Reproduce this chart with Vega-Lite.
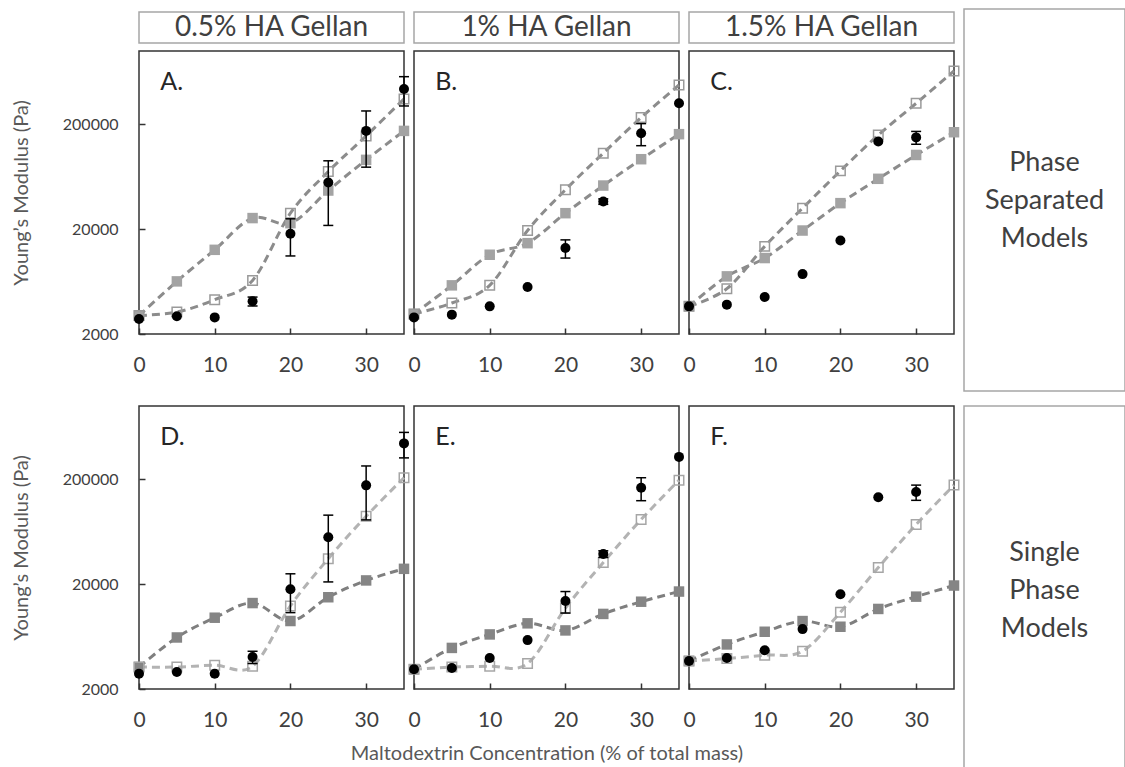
{
  "$schema": "https://vega.github.io/schema/vega-lite/v6.json",
  "padding": {"left": 10, "top": 8, "right": 0, "bottom": 0},
  "config": {
    "font": "Lato",
    "view": {"stroke": "#333333", "strokeWidth": 1.5},
    "axis": {"domain": false, "grid": false, "tickSize": -6, "tickColor": "#333333", "tickWidth": 1.5, "labelColor": "#404040", "titleColor": "#595959", "titleFontWeight": "normal", "labelFont": "Lato", "titleFont": "Lato"}
  },
  "datasets": {
    "labels": [
      {"panel": "A", "letter": "A.", "header": "0.5% HA Gellan"},
      {"panel": "B", "letter": "B.", "header": "1% HA Gellan"},
      {"panel": "C", "letter": "C.", "header": "1.5% HA Gellan"},
      {"panel": "D", "letter": "D."},
      {"panel": "E", "letter": "E."},
      {"panel": "F", "letter": "F."}
    ],
    "main": [
      {"panel": "A", "conc": 0, "series": "Measured", "value": 2780},
      {"panel": "A", "conc": 5, "series": "Measured", "value": 2950},
      {"panel": "A", "conc": 10, "series": "Measured", "value": 2880},
      {"panel": "A", "conc": 15, "series": "Measured", "value": 4100, "lo": 3700, "hi": 4500},
      {"panel": "A", "conc": 20, "series": "Measured", "value": 18100, "lo": 11100, "hi": 25100},
      {"panel": "A", "conc": 25, "series": "Measured", "value": 55700, "lo": 21700, "hi": 89700},
      {"panel": "A", "conc": 30, "series": "Measured", "value": 173000, "lo": 78000, "hi": 268000},
      {"panel": "A", "conc": 35, "series": "Measured", "value": 434000, "lo": 299000, "hi": 569000},
      {"panel": "A", "conc": 0, "series": "Model 1", "value": 3000},
      {"panel": "A", "conc": 5, "series": "Model 1", "value": 6350},
      {"panel": "A", "conc": 10, "series": "Model 1", "value": 12700},
      {"panel": "A", "conc": 15, "series": "Model 1", "value": 25500},
      {"panel": "A", "conc": 20, "series": "Model 1", "value": 22800},
      {"panel": "A", "conc": 25, "series": "Model 1", "value": 46700},
      {"panel": "A", "conc": 30, "series": "Model 1", "value": 91600},
      {"panel": "A", "conc": 35, "series": "Model 1", "value": 173000},
      {"panel": "A", "conc": 0, "series": "Model 2", "value": 3000},
      {"panel": "A", "conc": 5, "series": "Model 2", "value": 3240},
      {"panel": "A", "conc": 10, "series": "Model 2", "value": 4250},
      {"panel": "A", "conc": 15, "series": "Model 2", "value": 6490},
      {"panel": "A", "conc": 20, "series": "Model 2", "value": 28400},
      {"panel": "A", "conc": 25, "series": "Model 2", "value": 70900},
      {"panel": "A", "conc": 30, "series": "Model 2", "value": 155000},
      {"panel": "A", "conc": 35, "series": "Model 2", "value": 349000},

      {"panel": "B", "conc": 0, "series": "Measured", "value": 2880},
      {"panel": "B", "conc": 5, "series": "Measured", "value": 3060},
      {"panel": "B", "conc": 10, "series": "Measured", "value": 3670},
      {"panel": "B", "conc": 15, "series": "Measured", "value": 5610},
      {"panel": "B", "conc": 20, "series": "Measured", "value": 13200, "lo": 10600, "hi": 15800},
      {"panel": "B", "conc": 25, "series": "Measured", "value": 36700, "lo": 34500, "hi": 38900},
      {"panel": "B", "conc": 30, "series": "Measured", "value": 164000, "lo": 125000, "hi": 203000},
      {"panel": "B", "conc": 35, "series": "Measured", "value": 317000},
      {"panel": "B", "conc": 0, "series": "Model 1", "value": 3100},
      {"panel": "B", "conc": 5, "series": "Model 1", "value": 5820},
      {"panel": "B", "conc": 10, "series": "Model 1", "value": 11400},
      {"panel": "B", "conc": 15, "series": "Model 1", "value": 14700},
      {"panel": "B", "conc": 20, "series": "Model 1", "value": 28400},
      {"panel": "B", "conc": 25, "series": "Model 1", "value": 52100},
      {"panel": "B", "conc": 30, "series": "Model 1", "value": 92900},
      {"panel": "B", "conc": 35, "series": "Model 1", "value": 161000},
      {"panel": "B", "conc": 0, "series": "Model 2", "value": 3100},
      {"panel": "B", "conc": 5, "series": "Model 2", "value": 3950},
      {"panel": "B", "conc": 10, "series": "Model 2", "value": 5820},
      {"panel": "B", "conc": 15, "series": "Model 2", "value": 19400},
      {"panel": "B", "conc": 20, "series": "Model 2", "value": 47500},
      {"panel": "B", "conc": 25, "series": "Model 2", "value": 106000},
      {"panel": "B", "conc": 30, "series": "Model 2", "value": 232000},
      {"panel": "B", "conc": 35, "series": "Model 2", "value": 474000},

      {"panel": "C", "conc": 0, "series": "Measured", "value": 3670},
      {"panel": "C", "conc": 5, "series": "Measured", "value": 3810},
      {"panel": "C", "conc": 10, "series": "Measured", "value": 4500},
      {"panel": "C", "conc": 15, "series": "Measured", "value": 7450},
      {"panel": "C", "conc": 20, "series": "Measured", "value": 15600},
      {"panel": "C", "conc": 25, "series": "Measured", "value": 137000},
      {"panel": "C", "conc": 30, "series": "Measured", "value": 150000, "lo": 129000, "hi": 171000},
      {"panel": "C", "conc": 0, "series": "Model 1", "value": 3670},
      {"panel": "C", "conc": 5, "series": "Model 1", "value": 7090},
      {"panel": "C", "conc": 10, "series": "Model 1", "value": 10600},
      {"panel": "C", "conc": 15, "series": "Model 1", "value": 19400},
      {"panel": "C", "conc": 20, "series": "Model 1", "value": 35400},
      {"panel": "C", "conc": 25, "series": "Model 1", "value": 60400},
      {"panel": "C", "conc": 30, "series": "Model 1", "value": 102000},
      {"panel": "C", "conc": 35, "series": "Model 1", "value": 168000},
      {"panel": "C", "conc": 0, "series": "Model 2", "value": 3670},
      {"panel": "C", "conc": 5, "series": "Model 2", "value": 5410},
      {"panel": "C", "conc": 10, "series": "Model 2", "value": 13700},
      {"panel": "C", "conc": 15, "series": "Model 2", "value": 31700},
      {"panel": "C", "conc": 20, "series": "Model 2", "value": 71900},
      {"panel": "C", "conc": 25, "series": "Model 2", "value": 158000},
      {"panel": "C", "conc": 30, "series": "Model 2", "value": 317000},
      {"panel": "C", "conc": 35, "series": "Model 2", "value": 645000},

      {"panel": "D", "conc": 0, "series": "Measured", "value": 2800},
      {"panel": "D", "conc": 5, "series": "Measured", "value": 2900},
      {"panel": "D", "conc": 10, "series": "Measured", "value": 2800},
      {"panel": "D", "conc": 15, "series": "Measured", "value": 4040, "lo": 3500, "hi": 4580},
      {"panel": "D", "conc": 20, "series": "Measured", "value": 17900, "lo": 10700, "hi": 25100},
      {"panel": "D", "conc": 25, "series": "Measured", "value": 56000, "lo": 21000, "hi": 91000},
      {"panel": "D", "conc": 30, "series": "Measured", "value": 175000, "lo": 82000, "hi": 268000},
      {"panel": "D", "conc": 35, "series": "Measured", "value": 440000, "lo": 320000, "hi": 560000},
      {"panel": "D", "conc": 0, "series": "Model 1", "value": 3240},
      {"panel": "D", "conc": 5, "series": "Model 1", "value": 6200},
      {"panel": "D", "conc": 10, "series": "Model 1", "value": 9570},
      {"panel": "D", "conc": 15, "series": "Model 1", "value": 13200},
      {"panel": "D", "conc": 20, "series": "Model 1", "value": 8900},
      {"panel": "D", "conc": 25, "series": "Model 1", "value": 15000},
      {"panel": "D", "conc": 30, "series": "Model 1", "value": 21700},
      {"panel": "D", "conc": 35, "series": "Model 1", "value": 28000},
      {"panel": "D", "conc": 0, "series": "Model 2", "value": 3240},
      {"panel": "D", "conc": 5, "series": "Model 2", "value": 3240},
      {"panel": "D", "conc": 10, "series": "Model 2", "value": 3370},
      {"panel": "D", "conc": 15, "series": "Model 2", "value": 3300},
      {"panel": "D", "conc": 20, "series": "Model 2", "value": 12400},
      {"panel": "D", "conc": 25, "series": "Model 2", "value": 35000},
      {"panel": "D", "conc": 30, "series": "Model 2", "value": 88900},
      {"panel": "D", "conc": 35, "series": "Model 2", "value": 207000},

      {"panel": "E", "conc": 0, "series": "Measured", "value": 3080},
      {"panel": "E", "conc": 5, "series": "Measured", "value": 3170},
      {"panel": "E", "conc": 10, "series": "Measured", "value": 3950},
      {"panel": "E", "conc": 15, "series": "Measured", "value": 5850},
      {"panel": "E", "conc": 20, "series": "Measured", "value": 13800, "lo": 10600, "hi": 17000},
      {"panel": "E", "conc": 25, "series": "Measured", "value": 38800, "lo": 36000, "hi": 41600},
      {"panel": "E", "conc": 30, "series": "Measured", "value": 166000, "lo": 125000, "hi": 207000},
      {"panel": "E", "conc": 35, "series": "Measured", "value": 327000},
      {"panel": "E", "conc": 0, "series": "Model 1", "value": 3080},
      {"panel": "E", "conc": 5, "series": "Model 1", "value": 4930},
      {"panel": "E", "conc": 10, "series": "Model 1", "value": 6630},
      {"panel": "E", "conc": 15, "series": "Model 1", "value": 8460},
      {"panel": "E", "conc": 20, "series": "Model 1", "value": 7240},
      {"panel": "E", "conc": 25, "series": "Model 1", "value": 10400},
      {"panel": "E", "conc": 30, "series": "Model 1", "value": 13600},
      {"panel": "E", "conc": 35, "series": "Model 1", "value": 17000},
      {"panel": "E", "conc": 0, "series": "Model 2", "value": 3080},
      {"panel": "E", "conc": 5, "series": "Model 2", "value": 3240},
      {"panel": "E", "conc": 10, "series": "Model 2", "value": 3300},
      {"panel": "E", "conc": 15, "series": "Model 2", "value": 3500},
      {"panel": "E", "conc": 20, "series": "Model 2", "value": 11800},
      {"panel": "E", "conc": 25, "series": "Model 2", "value": 32200},
      {"panel": "E", "conc": 30, "series": "Model 2", "value": 82700},
      {"panel": "E", "conc": 35, "series": "Model 2", "value": 196000},

      {"panel": "F", "conc": 0, "series": "Measured", "value": 3700},
      {"panel": "F", "conc": 5, "series": "Measured", "value": 3950},
      {"panel": "F", "conc": 10, "series": "Measured", "value": 4690},
      {"panel": "F", "conc": 15, "series": "Measured", "value": 7450},
      {"panel": "F", "conc": 20, "series": "Measured", "value": 16000},
      {"panel": "F", "conc": 25, "series": "Measured", "value": 135000},
      {"panel": "F", "conc": 30, "series": "Measured", "value": 151000, "lo": 126000, "hi": 176000},
      {"panel": "F", "conc": 0, "series": "Model 1", "value": 3700},
      {"panel": "F", "conc": 5, "series": "Model 1", "value": 5320},
      {"panel": "F", "conc": 10, "series": "Model 1", "value": 7030},
      {"panel": "F", "conc": 15, "series": "Model 1", "value": 8890},
      {"panel": "F", "conc": 20, "series": "Model 1", "value": 7850},
      {"panel": "F", "conc": 25, "series": "Model 1", "value": 11600},
      {"panel": "F", "conc": 30, "series": "Model 1", "value": 15200},
      {"panel": "F", "conc": 35, "series": "Model 1", "value": 19400},
      {"panel": "F", "conc": 0, "series": "Model 2", "value": 3700},
      {"panel": "F", "conc": 5, "series": "Model 2", "value": 3900},
      {"panel": "F", "conc": 10, "series": "Model 2", "value": 4200},
      {"panel": "F", "conc": 15, "series": "Model 2", "value": 4590},
      {"panel": "F", "conc": 20, "series": "Model 2", "value": 10800},
      {"panel": "F", "conc": 25, "series": "Model 2", "value": 28800},
      {"panel": "F", "conc": 30, "series": "Model 2", "value": 74100},
      {"panel": "F", "conc": 35, "series": "Model 2", "value": 176000}
    ]
  },
  "vconcat": [
    {
      "hconcat": [
        {
          "width": 265, "height": 283,
          "layer": [
            {"data": {"name": "main"}, "transform": [{"filter": "datum.panel === 'A' && datum.series === 'Model 1'"}],
             "mark": {"type": "line", "interpolate": "cardinal", "strokeDash": [8, 5], "strokeWidth": 3, "color": "#8c8c8c"},
             "encoding": {
               "x": {"field": "conc", "type": "quantitative", "scale": {"domain": [0, 35], "nice": false, "zero": false},
                     "axis": {"values": [0, 5, 10, 15, 20, 25, 30, 35], "labelExpr": "datum.value % 10 === 0 ? datum.label : ''", "labelFontSize": 21, "labelPadding": 26, "labelFlush": false, "labelOverlap": false, "title": null, "minExtent": 62}},
               "y": {"field": "value", "type": "quantitative", "scale": {"type": "log", "domain": [2000, 1000000], "nice": false},
                     "axis": {"values": [2000, 20000, 200000], "format": "d", "labelFontSize": 16, "labelPadding": 27, "labelFlush": false, "labelOverlap": false, "title": "Young’s Modulus (Pa)", "titleFontSize": 20, "titlePadding": 31}}
             }},
            {"data": {"name": "main"}, "transform": [{"filter": "datum.panel === 'A' && datum.series === 'Model 2'"}],
             "mark": {"type": "line", "interpolate": "cardinal", "strokeDash": [8, 5], "strokeWidth": 3, "color": "#8c8c8c"},
             "encoding": {"x": {"field": "conc", "type": "quantitative"}, "y": {"field": "value", "type": "quantitative"}}},
            {"data": {"name": "main"}, "transform": [{"filter": "datum.panel === 'A' && datum.series === 'Model 1'"}],
             "mark": {"type": "square", "size": 110, "filled": true, "color": "#a3a3a3", "opacity": 1},
             "encoding": {"x": {"field": "conc", "type": "quantitative"}, "y": {"field": "value", "type": "quantitative"}}},
            {"data": {"name": "main"}, "transform": [{"filter": "datum.panel === 'A' && datum.series === 'Model 2'"}],
             "mark": {"type": "square", "size": 90, "filled": false, "color": "#9a9a9a", "strokeWidth": 1.5, "opacity": 1},
             "encoding": {"x": {"field": "conc", "type": "quantitative"}, "y": {"field": "value", "type": "quantitative"}}},
            {"data": {"name": "main"}, "transform": [{"filter": "datum.panel === 'A' && datum.series === 'Measured' && isValid(datum.lo)"}],
             "mark": {"type": "rule", "color": "black", "strokeWidth": 1.5},
             "encoding": {"x": {"field": "conc", "type": "quantitative"}, "y": {"field": "lo", "type": "quantitative"}, "y2": {"field": "hi"}}},
            {"data": {"name": "main"}, "transform": [{"filter": "datum.panel === 'A' && datum.series === 'Measured' && isValid(datum.lo)"}],
             "mark": {"type": "tick", "orient": "horizontal", "size": 10, "thickness": 1.5, "color": "black", "opacity": 1},
             "encoding": {"x": {"field": "conc", "type": "quantitative"}, "y": {"field": "lo", "type": "quantitative"}}},
            {"data": {"name": "main"}, "transform": [{"filter": "datum.panel === 'A' && datum.series === 'Measured' && isValid(datum.hi)"}],
             "mark": {"type": "tick", "orient": "horizontal", "size": 10, "thickness": 1.5, "color": "black", "opacity": 1},
             "encoding": {"x": {"field": "conc", "type": "quantitative"}, "y": {"field": "hi", "type": "quantitative"}}},
            {"data": {"name": "main"}, "transform": [{"filter": "datum.panel === 'A' && datum.series === 'Measured'"}],
             "mark": {"type": "circle", "size": 100, "color": "black", "opacity": 1},
             "encoding": {"x": {"field": "conc", "type": "quantitative"}, "y": {"field": "value", "type": "quantitative"}}},
            {"data": {"name": "labels"}, "transform": [{"filter": "datum.panel === 'A'"}],
             "mark": {"type": "text", "align": "left", "baseline": "middle", "fontSize": 25, "color": "#262626"},
             "encoding": {"text": {"field": "letter"}, "x": {"datum": 2.8}, "y": {"datum": 510000}}},
            {"data": {"name": "labels"}, "transform": [{"filter": "datum.panel === 'A'"}],
             "mark": {"type": "rect", "fill": null, "fillOpacity": 0, "stroke": "#a6a6a6", "strokeWidth": 1.5},
             "encoding": {"x": {"datum": 0}, "x2": {"datum": 35}, "y": {"datum": 1192000}, "y2": {"datum": 2355000}}},
            {"data": {"name": "labels"}, "transform": [{"filter": "datum.panel === 'A'"}],
             "mark": {"type": "text", "align": "center", "baseline": "middle", "fontSize": 28, "color": "#404040"},
             "encoding": {"text": {"field": "header"}, "x": {"datum": 17.5}, "y": {"datum": 1675000}}}
          ]
        },
        {
          "width": 265, "height": 283,
          "layer": [
            {"data": {"name": "main"}, "transform": [{"filter": "datum.panel === 'B' && datum.series === 'Model 1'"}],
             "mark": {"type": "line", "interpolate": "cardinal", "strokeDash": [8, 5], "strokeWidth": 3, "color": "#8c8c8c"},
             "encoding": {
               "x": {"field": "conc", "type": "quantitative", "scale": {"domain": [0, 35], "nice": false, "zero": false},
                     "axis": {"values": [0, 5, 10, 15, 20, 25, 30, 35], "labelExpr": "datum.value % 10 === 0 ? datum.label : ''", "labelFontSize": 21, "labelPadding": 26, "labelFlush": false, "labelOverlap": false, "title": null, "minExtent": 62}},
               "y": {"field": "value", "type": "quantitative", "scale": {"type": "log", "domain": [2000, 1000000], "nice": false}, "axis": null}
             }},
            {"data": {"name": "main"}, "transform": [{"filter": "datum.panel === 'B' && datum.series === 'Model 2'"}],
             "mark": {"type": "line", "interpolate": "cardinal", "strokeDash": [8, 5], "strokeWidth": 3, "color": "#8c8c8c"},
             "encoding": {"x": {"field": "conc", "type": "quantitative"}, "y": {"field": "value", "type": "quantitative", "axis": null}}},
            {"data": {"name": "main"}, "transform": [{"filter": "datum.panel === 'B' && datum.series === 'Model 1'"}],
             "mark": {"type": "square", "size": 110, "filled": true, "color": "#a3a3a3", "opacity": 1},
             "encoding": {"x": {"field": "conc", "type": "quantitative"}, "y": {"field": "value", "type": "quantitative", "axis": null}}},
            {"data": {"name": "main"}, "transform": [{"filter": "datum.panel === 'B' && datum.series === 'Model 2'"}],
             "mark": {"type": "square", "size": 90, "filled": false, "color": "#9a9a9a", "strokeWidth": 1.5, "opacity": 1},
             "encoding": {"x": {"field": "conc", "type": "quantitative"}, "y": {"field": "value", "type": "quantitative", "axis": null}}},
            {"data": {"name": "main"}, "transform": [{"filter": "datum.panel === 'B' && datum.series === 'Measured' && isValid(datum.lo)"}],
             "mark": {"type": "rule", "color": "black", "strokeWidth": 1.5},
             "encoding": {"x": {"field": "conc", "type": "quantitative"}, "y": {"field": "lo", "type": "quantitative", "axis": null}, "y2": {"field": "hi"}}},
            {"data": {"name": "main"}, "transform": [{"filter": "datum.panel === 'B' && datum.series === 'Measured' && isValid(datum.lo)"}],
             "mark": {"type": "tick", "orient": "horizontal", "size": 10, "thickness": 1.5, "color": "black", "opacity": 1},
             "encoding": {"x": {"field": "conc", "type": "quantitative"}, "y": {"field": "lo", "type": "quantitative", "axis": null}}},
            {"data": {"name": "main"}, "transform": [{"filter": "datum.panel === 'B' && datum.series === 'Measured' && isValid(datum.hi)"}],
             "mark": {"type": "tick", "orient": "horizontal", "size": 10, "thickness": 1.5, "color": "black", "opacity": 1},
             "encoding": {"x": {"field": "conc", "type": "quantitative"}, "y": {"field": "hi", "type": "quantitative", "axis": null}}},
            {"data": {"name": "main"}, "transform": [{"filter": "datum.panel === 'B' && datum.series === 'Measured'"}],
             "mark": {"type": "circle", "size": 100, "color": "black", "opacity": 1},
             "encoding": {"x": {"field": "conc", "type": "quantitative"}, "y": {"field": "value", "type": "quantitative", "axis": null}}},
            {"data": {"name": "labels"}, "transform": [{"filter": "datum.panel === 'B'"}],
             "mark": {"type": "text", "align": "left", "baseline": "middle", "fontSize": 25, "color": "#262626"},
             "encoding": {"text": {"field": "letter"}, "x": {"datum": 2.8}, "y": {"datum": 510000, "axis": null}}},
            {"data": {"name": "labels"}, "transform": [{"filter": "datum.panel === 'B'"}],
             "mark": {"type": "rect", "fill": null, "fillOpacity": 0, "stroke": "#a6a6a6", "strokeWidth": 1.5},
             "encoding": {"x": {"datum": 0}, "x2": {"datum": 35}, "y": {"datum": 1192000, "axis": null}, "y2": {"datum": 2355000}}},
            {"data": {"name": "labels"}, "transform": [{"filter": "datum.panel === 'B'"}],
             "mark": {"type": "text", "align": "center", "baseline": "middle", "fontSize": 28, "color": "#404040"},
             "encoding": {"text": {"field": "header"}, "x": {"datum": 17.5}, "y": {"datum": 1675000, "axis": null}}}
          ]
        },
        {
          "width": 265, "height": 283,
          "layer": [
            {"data": {"name": "main"}, "transform": [{"filter": "datum.panel === 'C' && datum.series === 'Model 1'"}],
             "mark": {"type": "line", "interpolate": "cardinal", "strokeDash": [8, 5], "strokeWidth": 3, "color": "#8c8c8c"},
             "encoding": {
               "x": {"field": "conc", "type": "quantitative", "scale": {"domain": [0, 35], "nice": false, "zero": false},
                     "axis": {"values": [0, 5, 10, 15, 20, 25, 30, 35], "labelExpr": "datum.value % 10 === 0 ? datum.label : ''", "labelFontSize": 21, "labelPadding": 26, "labelFlush": false, "labelOverlap": false, "title": null, "minExtent": 62}},
               "y": {"field": "value", "type": "quantitative", "scale": {"type": "log", "domain": [2000, 1000000], "nice": false}, "axis": null}
             }},
            {"data": {"name": "main"}, "transform": [{"filter": "datum.panel === 'C' && datum.series === 'Model 2'"}],
             "mark": {"type": "line", "interpolate": "cardinal", "strokeDash": [8, 5], "strokeWidth": 3, "color": "#8c8c8c"},
             "encoding": {"x": {"field": "conc", "type": "quantitative"}, "y": {"field": "value", "type": "quantitative", "axis": null}}},
            {"data": {"name": "main"}, "transform": [{"filter": "datum.panel === 'C' && datum.series === 'Model 1'"}],
             "mark": {"type": "square", "size": 110, "filled": true, "color": "#a3a3a3", "opacity": 1},
             "encoding": {"x": {"field": "conc", "type": "quantitative"}, "y": {"field": "value", "type": "quantitative", "axis": null}}},
            {"data": {"name": "main"}, "transform": [{"filter": "datum.panel === 'C' && datum.series === 'Model 2'"}],
             "mark": {"type": "square", "size": 90, "filled": false, "color": "#9a9a9a", "strokeWidth": 1.5, "opacity": 1},
             "encoding": {"x": {"field": "conc", "type": "quantitative"}, "y": {"field": "value", "type": "quantitative", "axis": null}}},
            {"data": {"name": "main"}, "transform": [{"filter": "datum.panel === 'C' && datum.series === 'Measured' && isValid(datum.lo)"}],
             "mark": {"type": "rule", "color": "black", "strokeWidth": 1.5},
             "encoding": {"x": {"field": "conc", "type": "quantitative"}, "y": {"field": "lo", "type": "quantitative", "axis": null}, "y2": {"field": "hi"}}},
            {"data": {"name": "main"}, "transform": [{"filter": "datum.panel === 'C' && datum.series === 'Measured' && isValid(datum.lo)"}],
             "mark": {"type": "tick", "orient": "horizontal", "size": 10, "thickness": 1.5, "color": "black", "opacity": 1},
             "encoding": {"x": {"field": "conc", "type": "quantitative"}, "y": {"field": "lo", "type": "quantitative", "axis": null}}},
            {"data": {"name": "main"}, "transform": [{"filter": "datum.panel === 'C' && datum.series === 'Measured' && isValid(datum.hi)"}],
             "mark": {"type": "tick", "orient": "horizontal", "size": 10, "thickness": 1.5, "color": "black", "opacity": 1},
             "encoding": {"x": {"field": "conc", "type": "quantitative"}, "y": {"field": "hi", "type": "quantitative", "axis": null}}},
            {"data": {"name": "main"}, "transform": [{"filter": "datum.panel === 'C' && datum.series === 'Measured'"}],
             "mark": {"type": "circle", "size": 100, "color": "black", "opacity": 1},
             "encoding": {"x": {"field": "conc", "type": "quantitative"}, "y": {"field": "value", "type": "quantitative", "axis": null}}},
            {"data": {"name": "labels"}, "transform": [{"filter": "datum.panel === 'C'"}],
             "mark": {"type": "text", "align": "left", "baseline": "middle", "fontSize": 25, "color": "#262626"},
             "encoding": {"text": {"field": "letter"}, "x": {"datum": 2.8}, "y": {"datum": 510000, "axis": null}}},
            {"data": {"name": "labels"}, "transform": [{"filter": "datum.panel === 'C'"}],
             "mark": {"type": "rect", "fill": null, "fillOpacity": 0, "stroke": "#a6a6a6", "strokeWidth": 1.5},
             "encoding": {"x": {"datum": 0}, "x2": {"datum": 35}, "y": {"datum": 1192000, "axis": null}, "y2": {"datum": 2355000}}},
            {"data": {"name": "labels"}, "transform": [{"filter": "datum.panel === 'C'"}],
             "mark": {"type": "text", "align": "center", "baseline": "middle", "fontSize": 28, "color": "#404040"},
             "encoding": {"text": {"field": "header"}, "x": {"datum": 17.5}, "y": {"datum": 1675000, "axis": null}}}
          ]
        },
        {
          "width": 161, "height": 283,
          "view": {"stroke": null},
          "data": {"values": [{"group": "Phase|Separated|Models"}]},
          "layer": [
            {"mark": {"type": "rect", "fill": null, "fillOpacity": 0, "stroke": "#a6a6a6", "strokeWidth": 1.5},
             "encoding": {
               "x": {"datum": 0, "type": "quantitative", "scale": {"domain": [0, 1], "nice": false}, "axis": null},
               "x2": {"datum": 1},
               "y": {"datum": 2515000, "type": "quantitative", "scale": {"type": "log", "domain": [2000, 1000000], "nice": false}, "axis": null},
               "y2": {"datum": 571}}},
            {"mark": {"type": "text", "lineBreak": "|", "fontSize": 27, "lineHeight": 38, "color": "#404040", "align": "center", "baseline": "middle"},
             "encoding": {"text": {"field": "group"}, "x": {"datum": 0.5, "axis": null}, "y": {"datum": 85500, "axis": null}}}
          ]
        }
      ],
      "spacing": 10,
      "bounds": "flush"
    },
    {
      "hconcat": [
        {
          "width": 265, "height": 283,
          "layer": [
            {"data": {"name": "main"}, "transform": [{"filter": "datum.panel === 'D' && datum.series === 'Model 1'"}],
             "mark": {"type": "line", "interpolate": "cardinal", "strokeDash": [8, 5], "strokeWidth": 3, "color": "#7f7f7f"},
             "encoding": {
               "x": {"field": "conc", "type": "quantitative", "scale": {"domain": [0, 35], "nice": false, "zero": false},
                     "axis": {"values": [0, 5, 10, 15, 20, 25, 30, 35], "labelExpr": "datum.value % 10 === 0 ? datum.label : ''", "labelFontSize": 21, "labelPadding": 26, "labelFlush": false, "labelOverlap": false, "title": null}},
               "y": {"field": "value", "type": "quantitative", "scale": {"type": "log", "domain": [2000, 1000000], "nice": false},
                     "axis": {"values": [2000, 20000, 200000], "format": "d", "labelFontSize": 16, "labelPadding": 27, "labelFlush": false, "labelOverlap": false, "title": "Young’s Modulus (Pa)", "titleFontSize": 20, "titlePadding": 31}}
             }},
            {"data": {"name": "main"}, "transform": [{"filter": "datum.panel === 'D' && datum.series === 'Model 2'"}],
             "mark": {"type": "line", "interpolate": "cardinal", "strokeDash": [8, 5], "strokeWidth": 3, "color": "#b3b3b3"},
             "encoding": {"x": {"field": "conc", "type": "quantitative"}, "y": {"field": "value", "type": "quantitative"}}},
            {"data": {"name": "main"}, "transform": [{"filter": "datum.panel === 'D' && datum.series === 'Model 1'"}],
             "mark": {"type": "square", "size": 110, "filled": true, "color": "#858585", "opacity": 1},
             "encoding": {"x": {"field": "conc", "type": "quantitative"}, "y": {"field": "value", "type": "quantitative"}}},
            {"data": {"name": "main"}, "transform": [{"filter": "datum.panel === 'D' && datum.series === 'Model 2'"}],
             "mark": {"type": "square", "size": 90, "filled": false, "color": "#a6a6a6", "strokeWidth": 1.5, "opacity": 1},
             "encoding": {"x": {"field": "conc", "type": "quantitative"}, "y": {"field": "value", "type": "quantitative"}}},
            {"data": {"name": "main"}, "transform": [{"filter": "datum.panel === 'D' && datum.series === 'Measured' && isValid(datum.lo)"}],
             "mark": {"type": "rule", "color": "black", "strokeWidth": 1.5},
             "encoding": {"x": {"field": "conc", "type": "quantitative"}, "y": {"field": "lo", "type": "quantitative"}, "y2": {"field": "hi"}}},
            {"data": {"name": "main"}, "transform": [{"filter": "datum.panel === 'D' && datum.series === 'Measured' && isValid(datum.lo)"}],
             "mark": {"type": "tick", "orient": "horizontal", "size": 10, "thickness": 1.5, "color": "black", "opacity": 1},
             "encoding": {"x": {"field": "conc", "type": "quantitative"}, "y": {"field": "lo", "type": "quantitative"}}},
            {"data": {"name": "main"}, "transform": [{"filter": "datum.panel === 'D' && datum.series === 'Measured' && isValid(datum.hi)"}],
             "mark": {"type": "tick", "orient": "horizontal", "size": 10, "thickness": 1.5, "color": "black", "opacity": 1},
             "encoding": {"x": {"field": "conc", "type": "quantitative"}, "y": {"field": "hi", "type": "quantitative"}}},
            {"data": {"name": "main"}, "transform": [{"filter": "datum.panel === 'D' && datum.series === 'Measured'"}],
             "mark": {"type": "circle", "size": 100, "color": "black", "opacity": 1},
             "encoding": {"x": {"field": "conc", "type": "quantitative"}, "y": {"field": "value", "type": "quantitative"}}},
            {"data": {"name": "labels"}, "transform": [{"filter": "datum.panel === 'D'"}],
             "mark": {"type": "text", "align": "left", "baseline": "middle", "fontSize": 25, "color": "#262626"},
             "encoding": {"text": {"field": "letter"}, "x": {"datum": 2.8}, "y": {"datum": 510000}}}
          ]
        },
        {
          "width": 265, "height": 283,
          "layer": [
            {"data": {"name": "main"}, "transform": [{"filter": "datum.panel === 'E' && datum.series === 'Model 1'"}],
             "mark": {"type": "line", "interpolate": "cardinal", "strokeDash": [8, 5], "strokeWidth": 3, "color": "#7f7f7f"},
             "encoding": {
               "x": {"field": "conc", "type": "quantitative", "scale": {"domain": [0, 35], "nice": false, "zero": false},
                     "axis": {"values": [0, 5, 10, 15, 20, 25, 30, 35], "labelExpr": "datum.value % 10 === 0 ? datum.label : ''", "labelFontSize": 21, "labelPadding": 26, "labelFlush": false, "labelOverlap": false, "title": "Maltodextrin Concentration (% of total mass)", "titleFontSize": 20, "titlePadding": 13}},
               "y": {"field": "value", "type": "quantitative", "scale": {"type": "log", "domain": [2000, 1000000], "nice": false}, "axis": null}
             }},
            {"data": {"name": "main"}, "transform": [{"filter": "datum.panel === 'E' && datum.series === 'Model 2'"}],
             "mark": {"type": "line", "interpolate": "cardinal", "strokeDash": [8, 5], "strokeWidth": 3, "color": "#b3b3b3"},
             "encoding": {"x": {"field": "conc", "type": "quantitative"}, "y": {"field": "value", "type": "quantitative", "axis": null}}},
            {"data": {"name": "main"}, "transform": [{"filter": "datum.panel === 'E' && datum.series === 'Model 1'"}],
             "mark": {"type": "square", "size": 110, "filled": true, "color": "#858585", "opacity": 1},
             "encoding": {"x": {"field": "conc", "type": "quantitative"}, "y": {"field": "value", "type": "quantitative", "axis": null}}},
            {"data": {"name": "main"}, "transform": [{"filter": "datum.panel === 'E' && datum.series === 'Model 2'"}],
             "mark": {"type": "square", "size": 90, "filled": false, "color": "#a6a6a6", "strokeWidth": 1.5, "opacity": 1},
             "encoding": {"x": {"field": "conc", "type": "quantitative"}, "y": {"field": "value", "type": "quantitative", "axis": null}}},
            {"data": {"name": "main"}, "transform": [{"filter": "datum.panel === 'E' && datum.series === 'Measured' && isValid(datum.lo)"}],
             "mark": {"type": "rule", "color": "black", "strokeWidth": 1.5},
             "encoding": {"x": {"field": "conc", "type": "quantitative"}, "y": {"field": "lo", "type": "quantitative", "axis": null}, "y2": {"field": "hi"}}},
            {"data": {"name": "main"}, "transform": [{"filter": "datum.panel === 'E' && datum.series === 'Measured' && isValid(datum.lo)"}],
             "mark": {"type": "tick", "orient": "horizontal", "size": 10, "thickness": 1.5, "color": "black", "opacity": 1},
             "encoding": {"x": {"field": "conc", "type": "quantitative"}, "y": {"field": "lo", "type": "quantitative", "axis": null}}},
            {"data": {"name": "main"}, "transform": [{"filter": "datum.panel === 'E' && datum.series === 'Measured' && isValid(datum.hi)"}],
             "mark": {"type": "tick", "orient": "horizontal", "size": 10, "thickness": 1.5, "color": "black", "opacity": 1},
             "encoding": {"x": {"field": "conc", "type": "quantitative"}, "y": {"field": "hi", "type": "quantitative", "axis": null}}},
            {"data": {"name": "main"}, "transform": [{"filter": "datum.panel === 'E' && datum.series === 'Measured'"}],
             "mark": {"type": "circle", "size": 100, "color": "black", "opacity": 1},
             "encoding": {"x": {"field": "conc", "type": "quantitative"}, "y": {"field": "value", "type": "quantitative", "axis": null}}},
            {"data": {"name": "labels"}, "transform": [{"filter": "datum.panel === 'E'"}],
             "mark": {"type": "text", "align": "left", "baseline": "middle", "fontSize": 25, "color": "#262626"},
             "encoding": {"text": {"field": "letter"}, "x": {"datum": 2.8}, "y": {"datum": 510000, "axis": null}}}
          ]
        },
        {
          "width": 265, "height": 283,
          "layer": [
            {"data": {"name": "main"}, "transform": [{"filter": "datum.panel === 'F' && datum.series === 'Model 1'"}],
             "mark": {"type": "line", "interpolate": "cardinal", "strokeDash": [8, 5], "strokeWidth": 3, "color": "#7f7f7f"},
             "encoding": {
               "x": {"field": "conc", "type": "quantitative", "scale": {"domain": [0, 35], "nice": false, "zero": false},
                     "axis": {"values": [0, 5, 10, 15, 20, 25, 30, 35], "labelExpr": "datum.value % 10 === 0 ? datum.label : ''", "labelFontSize": 21, "labelPadding": 26, "labelFlush": false, "labelOverlap": false, "title": null}},
               "y": {"field": "value", "type": "quantitative", "scale": {"type": "log", "domain": [2000, 1000000], "nice": false}, "axis": null}
             }},
            {"data": {"name": "main"}, "transform": [{"filter": "datum.panel === 'F' && datum.series === 'Model 2'"}],
             "mark": {"type": "line", "interpolate": "cardinal", "strokeDash": [8, 5], "strokeWidth": 3, "color": "#b3b3b3"},
             "encoding": {"x": {"field": "conc", "type": "quantitative"}, "y": {"field": "value", "type": "quantitative", "axis": null}}},
            {"data": {"name": "main"}, "transform": [{"filter": "datum.panel === 'F' && datum.series === 'Model 1'"}],
             "mark": {"type": "square", "size": 110, "filled": true, "color": "#858585", "opacity": 1},
             "encoding": {"x": {"field": "conc", "type": "quantitative"}, "y": {"field": "value", "type": "quantitative", "axis": null}}},
            {"data": {"name": "main"}, "transform": [{"filter": "datum.panel === 'F' && datum.series === 'Model 2'"}],
             "mark": {"type": "square", "size": 90, "filled": false, "color": "#a6a6a6", "strokeWidth": 1.5, "opacity": 1},
             "encoding": {"x": {"field": "conc", "type": "quantitative"}, "y": {"field": "value", "type": "quantitative", "axis": null}}},
            {"data": {"name": "main"}, "transform": [{"filter": "datum.panel === 'F' && datum.series === 'Measured' && isValid(datum.lo)"}],
             "mark": {"type": "rule", "color": "black", "strokeWidth": 1.5},
             "encoding": {"x": {"field": "conc", "type": "quantitative"}, "y": {"field": "lo", "type": "quantitative", "axis": null}, "y2": {"field": "hi"}}},
            {"data": {"name": "main"}, "transform": [{"filter": "datum.panel === 'F' && datum.series === 'Measured' && isValid(datum.lo)"}],
             "mark": {"type": "tick", "orient": "horizontal", "size": 10, "thickness": 1.5, "color": "black", "opacity": 1},
             "encoding": {"x": {"field": "conc", "type": "quantitative"}, "y": {"field": "lo", "type": "quantitative", "axis": null}}},
            {"data": {"name": "main"}, "transform": [{"filter": "datum.panel === 'F' && datum.series === 'Measured' && isValid(datum.hi)"}],
             "mark": {"type": "tick", "orient": "horizontal", "size": 10, "thickness": 1.5, "color": "black", "opacity": 1},
             "encoding": {"x": {"field": "conc", "type": "quantitative"}, "y": {"field": "hi", "type": "quantitative", "axis": null}}},
            {"data": {"name": "main"}, "transform": [{"filter": "datum.panel === 'F' && datum.series === 'Measured'"}],
             "mark": {"type": "circle", "size": 100, "color": "black", "opacity": 1},
             "encoding": {"x": {"field": "conc", "type": "quantitative"}, "y": {"field": "value", "type": "quantitative", "axis": null}}},
            {"data": {"name": "labels"}, "transform": [{"filter": "datum.panel === 'F'"}],
             "mark": {"type": "text", "align": "left", "baseline": "middle", "fontSize": 25, "color": "#262626"},
             "encoding": {"text": {"field": "letter"}, "x": {"datum": 2.8}, "y": {"datum": 510000, "axis": null}}}
          ]
        },
        {
          "width": 161, "height": 283,
          "view": {"stroke": null},
          "data": {"values": [{"group": "Single|Phase|Models"}]},
          "layer": [
            {"mark": {"type": "rect", "fill": null, "fillOpacity": 0, "stroke": "#a6a6a6", "strokeWidth": 1.5},
             "encoding": {
               "x": {"datum": 0, "type": "quantitative", "scale": {"domain": [0, 1], "nice": false}, "axis": null},
               "x2": {"datum": 1},
               "y": {"datum": 1000000, "type": "quantitative", "scale": {"type": "log", "domain": [2000, 1000000], "nice": false}, "axis": null},
               "y2": {"datum": 350}}},
            {"mark": {"type": "text", "lineBreak": "|", "fontSize": 27, "lineHeight": 38, "color": "#404040", "align": "center", "baseline": "middle"},
             "encoding": {"text": {"field": "group"}, "x": {"datum": 0.5, "axis": null}, "y": {"datum": 39600, "axis": null}}}
          ]
        }
      ],
      "spacing": 10,
      "bounds": "flush"
    }
  ],
  "spacing": 8
}
